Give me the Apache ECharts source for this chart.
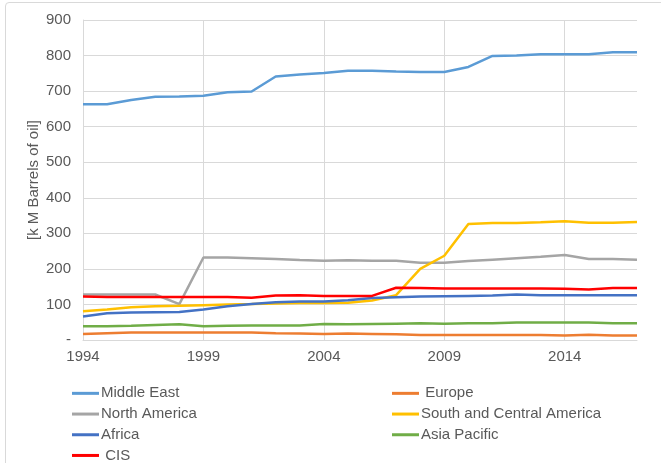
<!DOCTYPE html>
<html lang="en">
<head>
    <meta charset="UTF-8"/>
    <title>Oil reserves by region</title>
    <style>
        * {
            padding: 0;
            margin: 0;
        }

        body {
            background-color: white;
            width: 661px;
            height: 463px;
            overflow: hidden;
            position: relative;
        }

        .frame {
            position: absolute;
            left: 5px;
            top: 2px;
            width: 700px;
            height: 520px;
            border: 1px solid #d9d9d9;
            border-radius: 4px;
        }

        #chart {
            position: absolute;
            left: 0;
            top: 0;
            width: 661px;
            height: 463px;
        }
    </style>
    <script src="https://cdn.jsdelivr.net/npm/echarts@6/dist/echarts.min.js"></script>
</head>
<body>
<div class="frame"></div>
<div id="chart"></div>
<script>
    const years = ['1994', '1995', '1996', '1997', '1998', '1999', '2000', '2001', '2002', '2003', '2004', '2005',
        '2006', '2007', '2008', '2009', '2010', '2011', '2012', '2013', '2014', '2015', '2016', '2017']

    const middleEast = [663, 663, 675, 684, 685, 687, 697, 699, 741, 747, 751, 757,
        757, 755, 754, 754, 768, 799, 800, 804, 804, 804, 809, 809]
    const europe = [17, 19, 21, 21, 21, 21, 21, 21, 19, 18, 17, 18,
        17, 16, 14, 14, 14, 14, 14, 14, 13, 15, 13, 13]
    const northAmerica = [128, 128, 128, 128, 101, 232, 232, 230, 228, 225, 223, 224,
        223, 223, 217, 217, 222, 226, 230, 234, 239, 228, 228, 226]
    const southCentralAmerica = [81, 86, 92, 95, 96, 98, 100, 101, 103, 104, 104, 105,
        111, 126, 200, 237, 326, 329, 329, 331, 334, 330, 330, 332]
    const africa = [66, 75, 77, 78, 79, 86, 95, 101, 106, 108, 108, 112,
        118, 120, 122, 123, 124, 125, 128, 126, 126, 126, 126, 126]
    const asiaPacific = [39, 39, 40, 42, 44, 39, 40, 41, 41, 41, 45, 44,
        45, 46, 47, 46, 47, 47, 49, 49, 49, 49, 47, 47]
    const cis = [122, 121, 121, 121, 121, 121, 121, 119, 125, 126, 124, 124,
        124, 147, 146, 145, 145, 145, 145, 145, 144, 142, 146, 146]

    const seriesList = [
        {name: 'Middle East', data: middleEast, color: '#5B9BD5'},
        {name: 'Europe', data: europe, color: '#ED7D31'},
        {name: 'North America', data: northAmerica, color: '#A5A5A5'},
        {name: 'South and Central America', data: southCentralAmerica, color: '#FFC000'},
        {name: 'Africa', data: africa, color: '#4472C4'},
        {name: 'Asia Pacific', data: asiaPacific, color: '#70AD47'},
        {name: 'CIS', data: cis, color: '#FF0000'}
    ]

    const textColor = '#595959'
    const gridColor = '#d9d9d9'

    const legendBase = {
        orient: 'vertical',
        icon: 'rect',
        itemWidth: 27,
        itemHeight: 3,
        itemGap: 0,
        padding: 0,
        height: 120,
        textStyle: {
            color: textColor,
            fontSize: 15,
            lineHeight: 20.7,
            padding: [0, 0, 0, -3]
        },
        formatter: function (name) {
            return (name === 'Europe' || name === 'CIS') ? ' ' + name : name
        }
    }

    const chart = echarts.init(document.getElementById('chart'), null, {renderer: 'canvas'})

    chart.setOption({
        animation: false,
        textStyle: {fontFamily: 'Arial, Liberation Sans, sans-serif'},
        grid: {
            left: 83,
            right: 24,
            top: 20,
            bottom: 123,
            containLabel: false
        },
        legend: [
            Object.assign({}, legendBase, {
                left: 72,
                top: 383,
                data: ['Middle East', 'North America', 'Africa', 'CIS']
            }),
            Object.assign({}, legendBase, {
                left: 392,
                top: 383,
                data: ['Europe', 'South and Central America', 'Asia Pacific']
            })
        ],
        xAxis: {
            type: 'category',
            data: years,
            boundaryGap: false,
            axisLine: {lineStyle: {color: gridColor}},
            axisTick: {show: false},
            axisLabel: {
                interval: 4,
                color: textColor,
                fontSize: 15,
                margin: 9
            },
            splitLine: {
                show: true,
                interval: 4,
                lineStyle: {color: gridColor}
            }
        },
        yAxis: {
            type: 'value',
            min: 0,
            max: 900,
            interval: 100,
            name: '[k M Barrels of oil]',
            nameLocation: 'middle',
            nameGap: 42,
            nameMoveOverlap: false,
            nameTextStyle: {
                color: textColor,
                fontSize: 15
            },
            axisLine: {show: true, lineStyle: {color: gridColor}},
            axisTick: {show: false},
            axisLabel: {
                color: textColor,
                fontSize: 15,
                margin: 12,
                formatter: function (v) {
                    return v === 0 ? '-' : v
                }
            },
            splitLine: {lineStyle: {color: gridColor}}
        },
        series: seriesList.map(s => ({
            name: s.name,
            type: 'line',
            data: s.data,
            showSymbol: false,
            symbol: 'none',
            color: s.color,
            lineStyle: {width: 2.5, color: s.color}
        }))
    })
</script>
</body>
</html>
